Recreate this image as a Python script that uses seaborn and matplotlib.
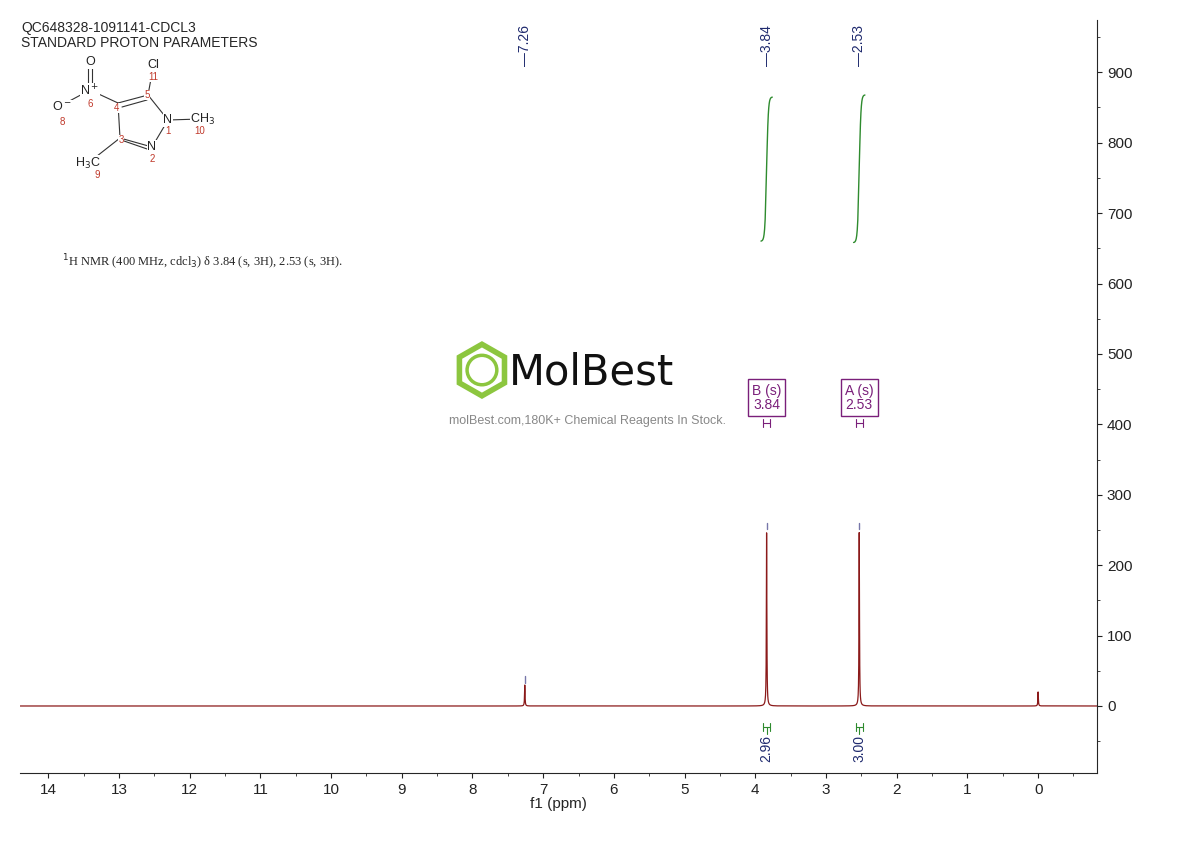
import matplotlib

matplotlib.use('Agg')

import matplotlib.pyplot as plt
import matplotlib.patches as mpatches
import seaborn as sns
import numpy as np

# datos
peak_ppm = [7.26, 3.84, 2.53, 0.0]
peak_height = [30, 248, 248, 20]
label_ppm = [7.26, 3.84, 2.53]
mult_names = ['B (s)', 'A (s)']
mult_ppm = [3.84, 2.53]
integral_vals = ['2.96', '3.00']
integral_lo = [660, 658]
integral_hi = [865, 868]
x_ticks = list(range(0, 15))
y_ticks = [0, 100, 200, 300, 400, 500, 600, 700, 800, 900]

sns.set_style('ticks')
plt.rcParams['font.family'] = ['Liberation Sans', 'DejaVu Sans']

fig = plt.figure(figsize=(11.9, 8.41), dpi=100)
ax = fig.add_axes([0.017, 0.081, 0.905, 0.895])

ppm = np.linspace(-0.85, 14.4, 20000)
spec = np.zeros_like(ppm)
w = 0.004
for p, h in zip(peak_ppm, peak_height):
    spec += h * w**2 / ((ppm - p)**2 + w**2)

sns.lineplot(x=ppm, y=spec, color='#8b1a1a', linewidth=0.9, ax=ax)

# marcas sobre picos
for p, h in zip(peak_ppm[:3], peak_height[:3]):
    ax.plot([p, p], [h + 3, h + 12], color='#7777aa', linewidth=1)

# etiquetas de desplazamiento
for p in label_ppm:
    ax.text(p, 938, '—' + f'{p:.2f}', rotation=90, ha='center', va='center',
            color='#1f2a6e', fontsize=10)

# curvas de integral
for p, lo, hi in zip(mult_ppm, integral_lo, integral_hi):
    xs = np.linspace(p - 0.08, p + 0.08, 200)
    ys = lo + (hi - lo) / (1 + np.exp((xs - p) / 0.012))
    ax.plot(xs, ys, color='#2e8b2e', linewidth=1)

# multiplete
for name, p in zip(mult_names, mult_ppm):
    ax.text(p, 438, f'{name}\n{p:.2f}', ha='center', va='center',
            color='#7a1f7a', fontsize=10, linespacing=1.0,
            bbox=dict(boxstyle='square,pad=0.3', fc='white', ec='#7a1f7a'))
    ax.plot([p - 0.05, p + 0.05], [402, 402], color='#7a1f7a', linewidth=0.8)
    ax.plot([p - 0.05, p - 0.05], [396, 408], color='#7a1f7a', linewidth=0.8)
    ax.plot([p + 0.05, p + 0.05], [396, 408], color='#7a1f7a', linewidth=0.8)

# integrales
for val, p in zip(integral_vals, mult_ppm):
    ax.plot([p - 0.05, p + 0.05], [-30, -30], color='#2e8b2e', linewidth=0.8)
    ax.plot([p - 0.05, p - 0.05], [-24, -36], color='#2e8b2e', linewidth=0.8)
    ax.plot([p + 0.05, p + 0.05], [-24, -36], color='#2e8b2e', linewidth=0.8)
    ax.plot([p, p], [-30, -40], color='#2e8b2e', linewidth=0.8)
    ax.text(p, -60, val, rotation=90, ha='center', va='center',
            color='#1f2a6e', fontsize=10)

ax.set_xlim(14.396, -0.835)
ax.set_ylim(-95, 974)
ax.set_xticks(x_ticks)
ax.set_xticks(np.arange(-0.5, 14.5, 0.5), minor=True)
ax.set_yticks(y_ticks)
ax.set_yticks(np.arange(-50, 975, 50), minor=True)
ax.yaxis.tick_right()
ax.tick_params(axis='both', labelsize=11, colors='#222222')
ax.set_xlabel('f1 (ppm)', fontsize=11, labelpad=0)
ax.spines['left'].set_visible(False)
ax.spines['top'].set_visible(False)
ax.spines['right'].set_visible(True)

# textos de cabecera
fig.text(0.018, 0.975, 'QC648328-1091141-CDCL3\nSTANDARD PROTON PARAMETERS',
         fontsize=10, va='top', linespacing=1.05)
fig.text(0.052, 0.683, r'$^{1}$H NMR (400 MHz, cdcl$_3$) δ 3.84 (s, 3H), 2.53 (s, 3H).',
         fontsize=9, family='Liberation Serif')

# estructura (coordenadas en pixeles de la figura)
s = fig.add_axes([40 / 1190, 1 - 185 / 841, 200 / 1190, 130 / 841])
s.set_xlim(40, 240)
s.set_ylim(185, 55)
s.axis('off')
bonds = [((168, 120), (152, 147)), ((152, 147), (120, 138)), ((120, 138), (118, 103)),
         ((118, 103), (148, 95)), ((148, 95), (168, 120)), ((168, 120), (200, 119)),
         ((148, 95), (153, 68)), ((118, 103), (90, 90)), ((90, 90), (62, 105)),
         ((120, 138), (92, 160)), ((88, 88), (88, 62)), ((92, 88), (92, 62)),
         ((122, 107), (147, 100)), ((124, 141), (150, 150))]
for a, b in bonds:
    s.plot([a[0], b[0]], [a[1], b[1]], color='#333333', linewidth=0.8)
atoms = [(168, 120, 'N'), (152, 147, 'N'), (153, 65, 'Cl'), (90, 91, 'N$^+$'),
         (62, 107, 'O$^-$'), (90, 62, 'O'), (203, 119, 'CH$_3$'), (88, 163, 'H$_3$C')]
for x, y, t in atoms:
    s.text(x, y, t, ha='center', va='center', fontsize=9, color='#222222',
           bbox=dict(fc='white', ec='none', pad=0.5))
nums = [(168, 131, '1'), (152, 159, '2'), (121, 140, '3'), (117, 108, '4'),
        (147, 95, '5'), (90, 104, '6'), (62, 122, '8'), (97, 175, '9'),
        (200, 131, '10'), (153, 77, '11')]
for x, y, t in nums:
    s.text(x, y, t, ha='center', va='center', fontsize=7, color='#c0392b',
           bbox=dict(fc='white', ec='none', pad=0.2))

# marca de agua
logo = fig.add_axes([0.38, 0.525, 0.05, 0.07])
logo.set_xlim(-1.2, 1.2)
logo.set_ylim(-1.2, 1.2)
logo.axis('off')
logo.add_patch(mpatches.RegularPolygon((0, 0), 6, radius=1.05, fill=False,
                                       ec='#8cc63f', lw=4))
logo.add_patch(mpatches.Circle((0, 0), 0.6, fill=False, ec='#8cc63f', lw=2.5))
fig.text(0.428, 0.557, 'MolBest', fontsize=30, va='center', color='#111111',
         family='DejaVu Sans Condensed')
fig.text(0.377, 0.499, 'molBest.com,180K+ Chemical Reagents In Stock.',
         fontsize=9, color='#888888', va='center')

plt.savefig('out.png', dpi=100)
plt.close()
